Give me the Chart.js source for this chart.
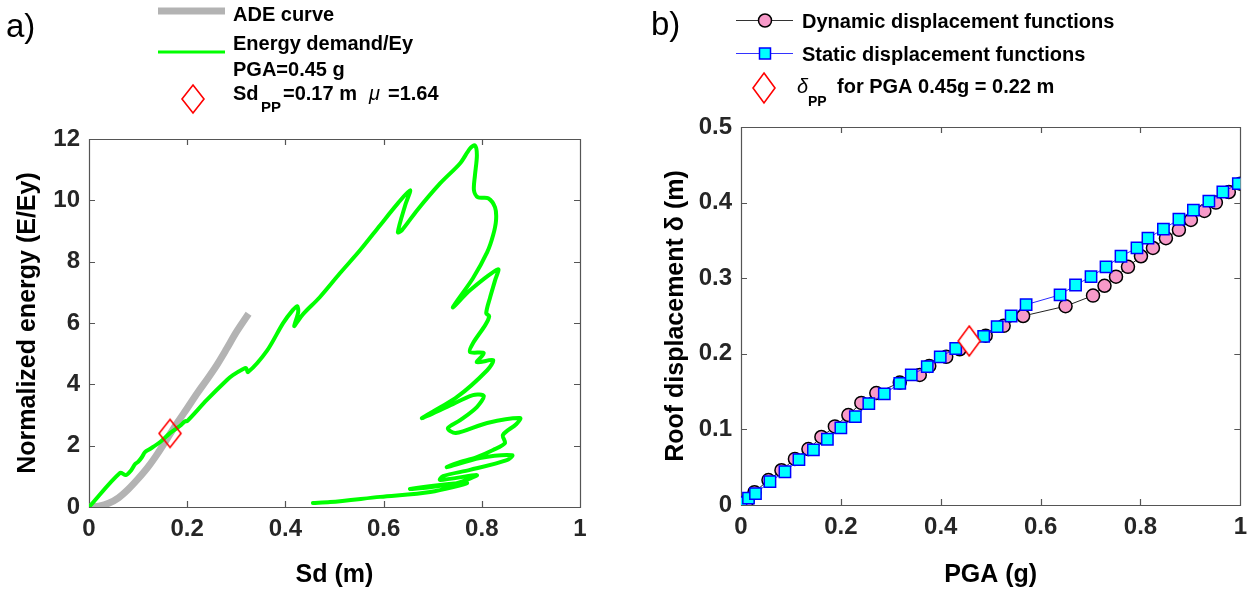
<!DOCTYPE html>
<html><head><meta charset="utf-8">
<script src="https://cdn.jsdelivr.net/npm/chart.js@4.4.1/dist/chart.umd.min.js"></script>
<style>
html,body{margin:0;padding:0;background:#fff;width:1255px;height:595px;overflow:hidden}
canvas{position:absolute;top:0}
</style></head><body>
<canvas id="ca" width="640" height="595" style="left:0"></canvas>
<canvas id="cb" width="615" height="595" style="left:640px"></canvas>
<script>
// ---------- data: panel a ----------
const adeSd = [0, 0.02, 0.04, 0.06, 0.08, 0.10, 0.12, 0.14, 0.16, 0.18, 0.20, 0.22, 0.24, 0.26, 0.28, 0.30, 0.325];
const adeE  = [0, 0.03, 0.12, 0.30, 0.58, 0.92, 1.30, 1.75, 2.25, 2.75, 3.22, 3.70, 4.15, 4.62, 5.15, 5.70, 6.30];

const edSd = [0.000,0.063,0.075,0.086,0.094,0.100,0.108,0.114,0.124,0.145,0.165,0.185,0.196,0.200,0.240,0.281,0.293,0.314,0.320,0.324,
  0.363,0.395,0.415,0.424,0.426,0.418,0.424,0.436,0.470,0.511,0.552,0.593,0.629,0.654,0.644,0.629,0.637,0.668,0.715,0.756,
  0.776,0.786,0.790,0.786,0.784,0.792,0.813,0.827,0.829,0.823,0.811,0.782,0.741,0.776,0.833,0.827,0.817,0.809,0.815,0.807,
  0.782,0.776,0.804,0.790,0.823,0.811,0.749,0.678,0.729,0.782,0.804,0.790,0.756,0.731,0.747,0.811,0.878,0.870,0.843,0.847,
  0.823,0.790,0.749,0.729,0.796,0.862,0.851,0.776,0.721,0.715,0.790,0.749,0.680,0.654,0.715,0.770,0.695,0.593,0.491,0.456];
const edE  = [0.00,1.11,1.04,1.20,1.40,1.47,1.63,1.79,1.89,2.12,2.41,2.64,2.80,2.80,3.49,4.14,4.30,4.50,4.53,4.40,
  5.11,5.99,6.42,6.55,6.35,5.90,6.03,6.29,6.84,7.62,8.37,9.19,9.90,10.33,9.84,8.96,9.02,9.67,10.55,11.21,
  11.69,11.79,11.47,10.81,10.33,10.10,10.07,9.77,9.35,8.86,8.31,7.46,6.51,7.07,7.75,7.39,6.84,6.32,6.22,5.93,
  5.34,5.05,5.02,4.72,4.79,4.46,3.58,2.90,3.26,3.65,3.62,3.26,2.83,2.57,2.41,2.74,2.90,2.70,2.35,2.08,
  1.86,1.63,1.43,1.30,1.60,1.69,1.53,1.21,1.01,0.88,1.04,0.78,0.62,0.59,0.72,0.78,0.49,0.33,0.16,0.13];

const ppSd = [0.165];
const ppE  = [2.40];

const xTicksA = [0, 0.2, 0.4, 0.6, 0.8, 1];
const xLabelsA = ['0', '0.2', '0.4', '0.6', '0.8', '1'];
const yTicksA = [0, 2, 4, 6, 8, 10, 12];
const yLabelsA = ['0', '2', '4', '6', '8', '10', '12'];

// ---------- data: panel b ----------
const dynPGA  = [0, 0.013, 0.027, 0.055, 0.081, 0.108, 0.135, 0.161, 0.188, 0.215, 0.241, 0.271, 0.318, 0.358, 0.377, 0.411, 0.438,
  0.490, 0.526, 0.565, 0.650, 0.705, 0.728, 0.751, 0.775, 0.801, 0.825, 0.851, 0.877, 0.901, 0.928, 0.951, 0.977, 1.000];
const dynDisp = [0, 0.006, 0.017, 0.033, 0.046, 0.061, 0.074, 0.090, 0.104, 0.119, 0.135, 0.148, 0.162, 0.172, 0.184, 0.196, 0.206,
  0.224, 0.237, 0.250, 0.263, 0.277, 0.290, 0.302, 0.315, 0.329, 0.340, 0.353, 0.364, 0.377, 0.389, 0.400, 0.414, 0.425];

const staPGA  = [0, 0.015, 0.029, 0.058, 0.088, 0.116, 0.145, 0.173, 0.200, 0.229, 0.256, 0.287, 0.318, 0.341, 0.373, 0.399, 0.430,
  0.486, 0.513, 0.541, 0.571, 0.639, 0.670, 0.701, 0.731, 0.761, 0.793, 0.815, 0.846, 0.877, 0.906, 0.937, 0.965, 0.996];
const staDisp = [0.003, 0.009, 0.015, 0.031, 0.044, 0.060, 0.073, 0.087, 0.102, 0.117, 0.134, 0.147, 0.161, 0.172, 0.183, 0.196, 0.207,
  0.223, 0.236, 0.250, 0.265, 0.278, 0.291, 0.302, 0.315, 0.329, 0.340, 0.353, 0.365, 0.378, 0.390, 0.402, 0.414, 0.425];

const ppPGA  = [0.457];
const ppDisp = [0.217];

const xTicksB = [0, 0.2, 0.4, 0.6, 0.8, 1];
const xLabelsB = ['0', '0.2', '0.4', '0.6', '0.8', '1'];
const yTicksB = [0, 0.1, 0.2, 0.3, 0.4, 0.5];
const yLabelsB = ['0', '0.1', '0.2', '0.3', '0.4', '0.5'];

// ---------- helpers ----------
const FF = '"Liberation Sans", Arial, sans-serif';
const pts = (xs, ys) => xs.map((v, i) => ({x: v, y: ys[i]}));

function diamondPath(g, cx, cy, w, h) {
  g.beginPath();
  g.moveTo(cx, cy - h / 2); g.lineTo(cx + w / 2, cy); g.lineTo(cx, cy + h / 2); g.lineTo(cx - w / 2, cy);
  g.closePath();
}
function diamondImg(w, h, fill) {
  const c = document.createElement('canvas');
  c.width = w + 4; c.height = h + 4;
  const g = c.getContext('2d');
  diamondPath(g, c.width / 2, c.height / 2, w, h);
  if (fill) { g.fillStyle = '#ffffff'; g.fill(); }
  g.strokeStyle = '#ff0000'; g.lineWidth = 1.6; g.stroke();
  return c;
}
function drawDiamond(ctx, cx, cy, w, h) {
  ctx.save();
  diamondPath(ctx, cx, cy, w, h);
  ctx.strokeStyle = '#ff0000'; ctx.lineWidth = 1.6; ctx.stroke();
  ctx.restore();
}

const boxTicks = {
  id: 'boxTicks',
  beforeDatasetsDraw(chart) {
    const {ctx, chartArea: a} = chart;
    const x = chart.scales.x, y = chart.scales.y;
    const L = 6;
    ctx.save();
    ctx.strokeStyle = '#555555';
    ctx.lineWidth = 1.2;
    ctx.beginPath();
    ctx.rect(Math.round(a.left) + 0.5, Math.round(a.top) + 0.5, Math.round(a.right - a.left), Math.round(a.bottom - a.top));
    x.ticks.forEach(t => {
      const p = Math.round(x.getPixelForValue(t.value)) + 0.5;
      ctx.moveTo(p, a.bottom); ctx.lineTo(p, a.bottom - L);
      ctx.moveTo(p, a.top); ctx.lineTo(p, a.top + L);
    });
    y.ticks.forEach(t => {
      const p = Math.round(y.getPixelForValue(t.value)) + 0.5;
      ctx.moveTo(a.left, p); ctx.lineTo(a.left + L, p);
      ctx.moveTo(a.right, p); ctx.lineTo(a.right - L, p);
    });
    ctx.stroke();
    ctx.restore();
  }
};

function segText(ctx, parts) {
  parts.forEach(([t, font, x, y]) => { ctx.font = font; ctx.fillText(t, x, y); });
}

const legendA = {
  id: 'legendA',
  afterDraw(chart) {
    const ctx = chart.ctx;
    ctx.save();
    ctx.fillStyle = '#000';
    ctx.textBaseline = 'alphabetic';
    ctx.textAlign = 'left';
    ctx.font = '33px ' + FF;
    ctx.fillText('a)', 6, 37);
    ctx.lineCap = 'butt';
    ctx.strokeStyle = '#b3b3b3'; ctx.lineWidth = 7;
    ctx.beginPath(); ctx.moveTo(158, 11); ctx.lineTo(225, 11); ctx.stroke();
    ctx.strokeStyle = '#00ff00'; ctx.lineWidth = 3;
    ctx.beginPath(); ctx.moveTo(158, 52); ctx.lineTo(225, 52); ctx.stroke();
    drawDiamond(ctx, 193, 99, 22, 28);
    const B = 'bold 20px ' + FF;
    segText(ctx, [
      ['ADE curve', B, 233, 21],
      ['Energy demand/Ey', B, 233, 50],
      ['PGA=0.45 g', B, 233, 76],
      ['Sd', B, 233, 100],
      ['PP', 'bold 15px ' + FF, 261, 112],
      ['=0.17 m', B, 283, 100],
      ['\u03bc', 'italic 20px ' + FF, 369, 100],
      ['=1.64', B, 388, 100]
    ]);
    ctx.restore();
  }
};

const legendB = {
  id: 'legendB',
  afterDraw(chart) {
    const ctx = chart.ctx;
    const o = 640;
    ctx.save();
    ctx.fillStyle = '#000';
    ctx.textBaseline = 'alphabetic';
    ctx.textAlign = 'left';
    ctx.font = '33px ' + FF;
    ctx.fillText('b)', 651 - o, 35);
    // dynamic
    ctx.strokeStyle = '#333'; ctx.lineWidth = 1;
    ctx.beginPath(); ctx.moveTo(736 - o, 20.5); ctx.lineTo(793 - o, 20.5); ctx.stroke();
    ctx.fillStyle = '#f79ac9'; ctx.strokeStyle = '#000'; ctx.lineWidth = 1.5;
    ctx.beginPath(); ctx.arc(765 - o, 20.5, 6.5, 0, Math.PI * 2); ctx.fill(); ctx.stroke();
    // static
    ctx.strokeStyle = '#3333ff'; ctx.lineWidth = 1;
    ctx.beginPath(); ctx.moveTo(736 - o, 53.5); ctx.lineTo(793 - o, 53.5); ctx.stroke();
    ctx.fillStyle = '#00ffff'; ctx.strokeStyle = '#0000ff'; ctx.lineWidth = 1.5;
    ctx.beginPath(); ctx.rect(765 - o - 5.5, 53.5 - 5.5, 11, 11); ctx.fill(); ctx.stroke();
    drawDiamond(ctx, 764 - o, 88, 22, 30);
    ctx.fillStyle = '#000';
    const B = 'bold 20px ' + FF;
    segText(ctx, [
      ['Dynamic displacement functions', B, 802 - o, 28],
      ['Static displacement functions', B, 802 - o, 61],
      ['\u03b4', 'italic 20px ' + FF, 797 - o, 93],
      ['PP', 'bold 14px ' + FF, 808 - o, 106],
      ['for PGA 0.45g = 0.22 m', B, 837 - o, 93]
    ]);
    ctx.restore();
  }
};

const tickFont = {family: FF, size: 24, weight: 'bold'};
const titleFont = {family: FF, size: 25, weight: 'bold'};

function axes(xt, xl, yt, yl, yW, xH, yTitle, xTitle, yTitlePad, yMax) {
  return {
    x: {
      type: 'linear', min: 0, max: 1,
      afterBuildTicks: s => { s.ticks = xt.map(v => ({value: v})); },
      afterFit: s => { s.height = xH; },
      grid: {display: false, drawTicks: false},
      border: {display: false},
      ticks: {font: tickFont, color: '#262626', padding: 8, maxRotation: 0, autoSkip: false,
              callback: (v, i) => xl[i]},
      title: {display: true, text: xTitle, font: titleFont, color: '#000', padding: {top: 0, bottom: 5}}
    },
    y: {
      type: 'linear', min: 0, max: yMax,
      afterBuildTicks: s => { s.ticks = yt.map(v => ({value: v})); },
      afterFit: s => { s.width = yW; },
      grid: {display: false, drawTicks: false},
      border: {display: false},
      ticks: {font: tickFont, color: '#262626', padding: 9, autoSkip: false,
              callback: (v, i) => yl[i]},
      title: {display: true, text: yTitle, font: titleFont, color: '#000', padding: {top: yTitlePad, bottom: 0}}
    }
  };
}

const common = {
  responsive: false,
  animation: false,
  events: [],
  plugins: {legend: {display: false}, tooltip: {enabled: false}}
};

new Chart(document.getElementById('ca'), {
  type: 'scatter',
  data: {
    datasets: [
      {label: 'ADE curve', data: pts(adeSd, adeE), showLine: true, borderColor: '#b3b3b3', borderWidth: 7,
       pointRadius: 0, tension: 0.3, order: 3, borderCapStyle: 'butt'},
      {label: 'Energy demand/Ey PGA=0.45 g', data: pts(edSd, edE), showLine: true, borderColor: '#00ff00', borderWidth: 4,
       pointRadius: 0, tension: 0.3, order: 2, borderJoinStyle: 'round', borderCapStyle: 'round'},
      {label: 'Sd_PP=0.17 m μ=1.64', data: pts(ppSd, ppE), showLine: false, pointStyle: diamondImg(22, 28, false),
       pointRadius: 12, order: 1}
    ]
  },
  options: Object.assign({}, common, {
    layout: {padding: {left: 0, top: 139, right: 60, bottom: 0}},
    scales: axes(xTicksA, xLabelsA, yTicksA, yLabelsA, 89, 88, 'Normalized energy (E/Ey)', 'Sd (m)', 13, 12)
  }),
  plugins: [boxTicks, legendA]
});

new Chart(document.getElementById('cb'), {
  type: 'scatter',
  data: {
    datasets: [
      {label: 'Dynamic displacement functions', data: pts(dynPGA, dynDisp), showLine: true, borderColor: '#222', borderWidth: 1,
       pointStyle: 'circle', pointRadius: 6.5, pointBackgroundColor: '#f79ac9', pointBorderColor: '#000', pointBorderWidth: 1.5,
       tension: 0, order: 3},
      {label: 'Static displacement functions', data: pts(staPGA, staDisp), showLine: true, borderColor: '#2a2aff', borderWidth: 1,
       pointStyle: 'rect', pointRadius: 8, pointBackgroundColor: '#00ffff', pointBorderColor: '#0000ff', pointBorderWidth: 1.5,
       tension: 0, order: 2},
      {label: 'δPP for PGA 0.45g = 0.22 m', data: pts(ppPGA, ppDisp), showLine: false, pointStyle: diamondImg(22, 30, true),
       pointRadius: 12, order: 1}
    ]
  },
  options: Object.assign({}, common, {
    layout: {padding: {left: 0, top: 127, right: 14, bottom: 0}},
    scales: axes(xTicksB, xLabelsB, yTicksB, yLabelsB, 101, 90, 'Roof displacement \u03b4 (m)', 'PGA (g)', 21, 0.5)
  }),
  plugins: [boxTicks, legendB]
});
</script>
</body></html>
